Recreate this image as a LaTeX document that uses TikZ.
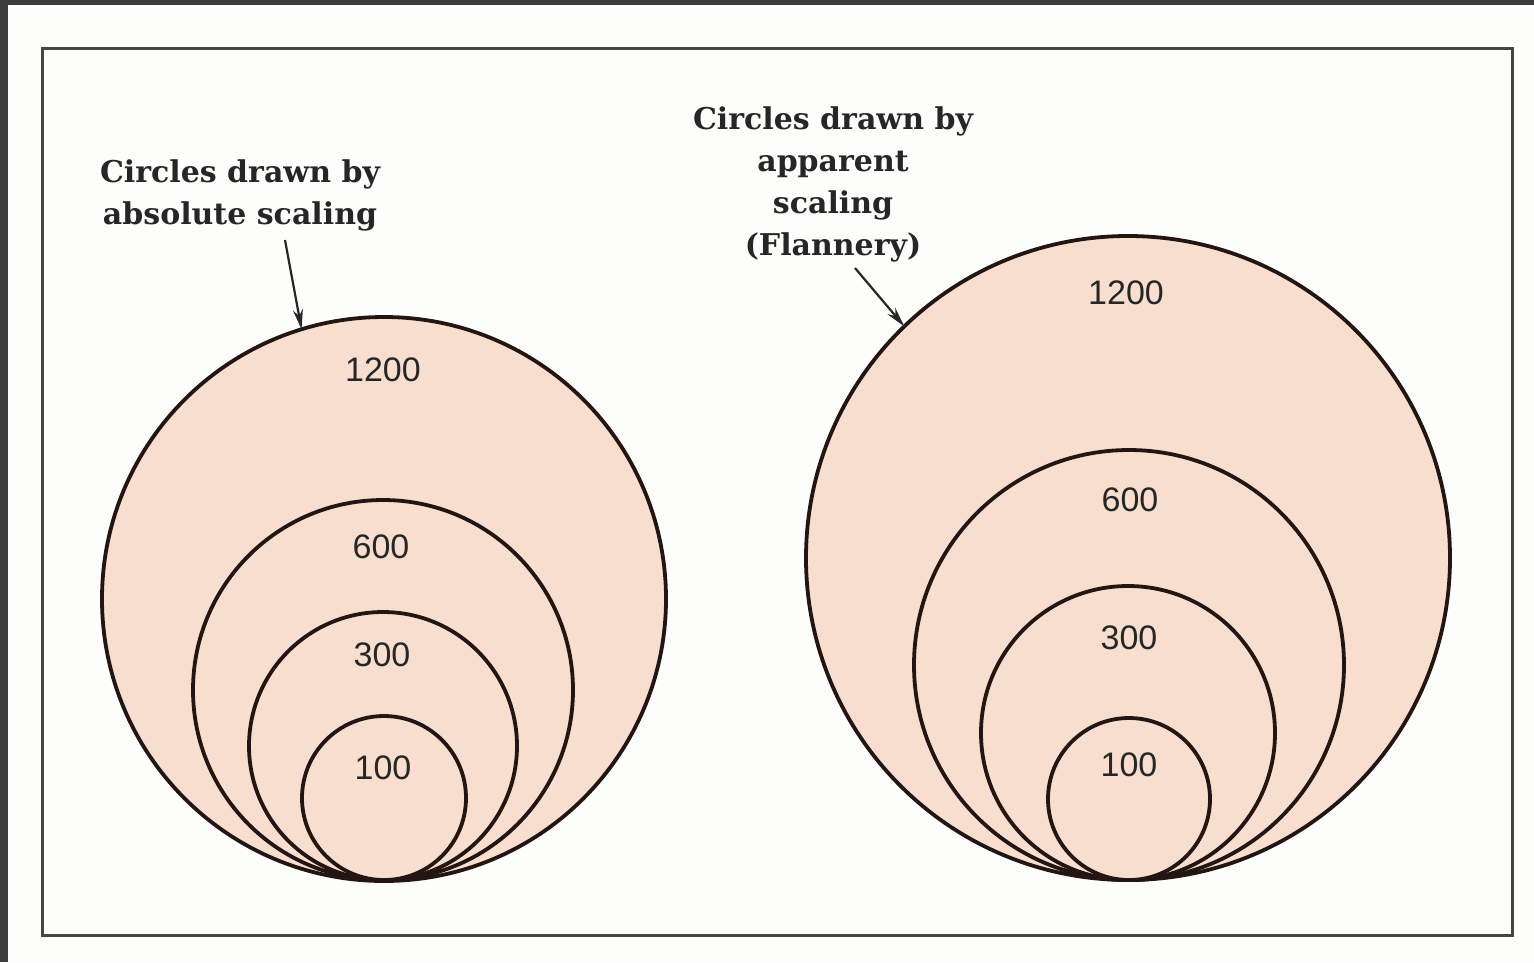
\documentclass[tikz,border=0pt]{standalone}
\usepackage{fontspec}
\setmainfont{DejaVu Serif}
\newfontfamily\numfont{Liberation Sans}
\usetikzlibrary{arrows.meta}
\definecolor{peach}{RGB}{247,222,207}
\definecolor{ink}{RGB}{35,22,18}
\definecolor{paper}{RGB}{253,253,251}
\definecolor{edge}{RGB}{60,60,60}
\definecolor{framec}{RGB}{70,70,70}
\tikzset{
  ring/.style={circle, draw=ink, fill=peach, line width=3.8pt, inner sep=0pt, outer sep=0pt},
  num/.style={font=\numfont\fontsize{34}{34}\selectfont, inner sep=0pt, text=black!85},
  title/.style={font=\bfseries\fontsize{30}{41.8}\selectfont, align=center, inner sep=0pt, text=black!85},
  pointer/.style={line width=2.2pt, draw=black!85, -{Stealth[length=20pt,width=10pt]}}
}
\begin{document}
\begin{tikzpicture}[x=1pt,y=-1pt]
\useasboundingbox (0,0) rectangle (1534,962);
\fill[paper] (0,0) rectangle (1534,962);
\fill[edge] (0,0) rectangle (1534,5);
\fill[edge] (0,0) rectangle (8,962);
\draw[framec, line width=3pt] (42,48) rectangle (1512,935);

% left group
\node[ring, minimum size=564pt] (L1200) at (384,599) {};
\node[ring, minimum size=380pt] (L600) at (383,690) {};
\node[ring, minimum size=268pt] (L300) at (383,746) {};
\node[ring, minimum size=164pt] (L100) at (384,798) {};
\node[num] (nL1200) at (383,370) {1200};
\node[num] (nL600) at (381,547) {600};
\node[num] (nL300) at (382,655) {300};
\node[num] (nL100) at (383,768) {100};

% right group
\node[ring, minimum size=644pt] (R1200) at (1128,558) {};
\node[ring, minimum size=430pt] (R600) at (1129,665) {};
\node[ring, minimum size=294pt] (R300) at (1128,733) {};
\node[ring, minimum size=162pt] (R100) at (1129,799) {};
\node[num] (nR1200) at (1126,293) {1200};
\node[num] (nR600) at (1130,500) {600};
\node[num] (nR300) at (1129,638) {300};
\node[num] (nR100) at (1129,765) {100};

% titles
\node[title, anchor=north] (tL) at (240,160) {Circles drawn by\\absolute scaling};
\node[title, anchor=north] (tR) at (833,107) {Circles drawn by\\apparent\\scaling\\(Flannery)};

\coordinate (aL) at (285,240);
\coordinate (aR) at (855,268);
\draw[pointer] (aL) -- (L1200.107);
\draw[pointer] (aR) -- (R1200.134.5);
\end{tikzpicture}
\end{document}
